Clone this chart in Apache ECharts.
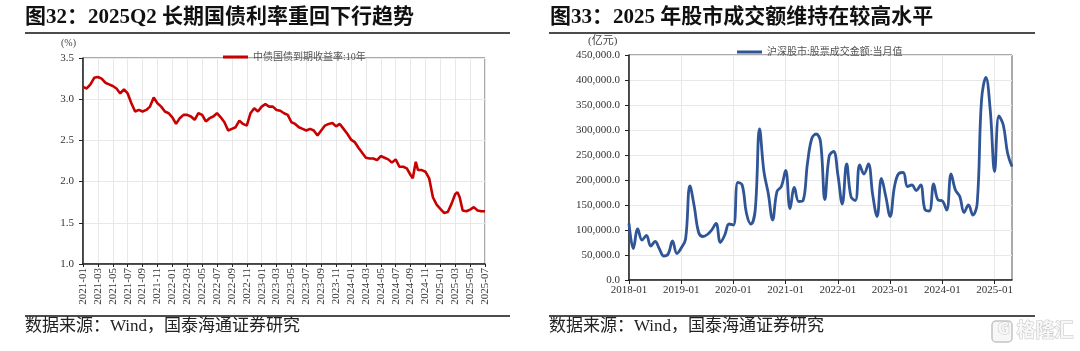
<!DOCTYPE html>
<html>
<head>
<meta charset="utf-8">
<script src="https://cdn.jsdelivr.net/npm/echarts@6/dist/echarts.min.js"></script>
<style>
  html, body { margin: 0; padding: 0; background: #fff; }
  #main { width: 1080px; height: 351px; }
</style>
</head>
<body>
<div id="main"></div>
<script>
// 图32：中债国债到期收益率:10年（%）
var yieldDates = [
  "2021-01-01","2021-01-16","2021-02-01","2021-02-16","2021-03-01","2021-03-16","2021-04-01","2021-04-16",
  "2021-05-01","2021-05-16","2021-06-01","2021-06-16","2021-07-01","2021-07-16","2021-08-01","2021-08-16",
  "2021-09-01","2021-09-16","2021-10-01","2021-10-16","2021-11-01","2021-11-16","2021-12-01","2021-12-16",
  "2022-01-01","2022-01-16","2022-02-01","2022-02-16","2022-03-01","2022-03-16","2022-04-01","2022-04-16",
  "2022-05-01","2022-05-16","2022-06-01","2022-06-16","2022-07-01","2022-07-16","2022-08-01","2022-08-16",
  "2022-09-01","2022-09-16","2022-10-01","2022-10-16","2022-11-01","2022-11-16","2022-12-01","2022-12-16",
  "2023-01-01","2023-01-16","2023-02-01","2023-02-16","2023-03-01","2023-03-16","2023-04-01","2023-04-16",
  "2023-05-01","2023-05-16","2023-06-01","2023-06-16","2023-07-01","2023-07-16","2023-08-01","2023-08-16",
  "2023-09-01","2023-09-16","2023-10-01","2023-10-16","2023-11-01","2023-11-16","2023-12-01","2023-12-16",
  "2024-01-01","2024-01-16","2024-02-01","2024-02-16","2024-03-01","2024-03-16","2024-04-01","2024-04-16",
  "2024-05-01","2024-05-16","2024-06-01","2024-06-16","2024-07-01","2024-07-16","2024-08-01","2024-08-16",
  "2024-09-01","2024-09-10","2024-09-22","2024-10-01","2024-10-16","2024-11-01","2024-11-16","2024-12-01",
  "2024-12-16","2025-01-01","2025-01-16","2025-02-01","2025-02-16","2025-03-01","2025-03-10","2025-03-19",
  "2025-04-01","2025-04-16","2025-05-01","2025-05-16","2025-06-01","2025-06-16","2025-07-01"
];
var yieldValues = [
  3.15, 3.13, 3.18, 3.26, 3.27, 3.25, 3.20, 3.18,
  3.16, 3.13, 3.07, 3.12, 3.07, 2.95, 2.85, 2.87,
  2.85, 2.87, 2.91, 3.02, 2.95, 2.91, 2.85, 2.83,
  2.78, 2.70, 2.77, 2.81, 2.81, 2.79, 2.75, 2.83,
  2.81, 2.73, 2.77, 2.79, 2.83, 2.78, 2.72, 2.62,
  2.64, 2.66, 2.74, 2.70, 2.68, 2.83, 2.89, 2.85,
  2.91, 2.94, 2.91, 2.91, 2.87, 2.86, 2.83, 2.81,
  2.72, 2.70, 2.66, 2.64, 2.62, 2.64, 2.62, 2.56,
  2.62, 2.68, 2.70, 2.71, 2.67, 2.70, 2.64, 2.58,
  2.51, 2.48, 2.41, 2.35, 2.29, 2.28, 2.28, 2.26,
  2.31, 2.29, 2.27, 2.23, 2.27, 2.18, 2.18, 2.16,
  2.08, 2.04, 2.24, 2.14, 2.14, 2.12, 2.04, 1.81,
  1.72, 1.67, 1.62, 1.63, 1.73, 1.85, 1.87, 1.81,
  1.65, 1.64, 1.66, 1.69, 1.65, 1.64, 1.64
];
var yieldAxis = { startYear: 2021, months: 54, step: 2, min: 1.0, max: 3.5, interval: 0.5 };

// 图33：沪深股市:股票成交金额:当月值（亿元），2018-01 起
var turnoverStart = { year: 2018, month: 1 };
var turnoverValues = [
  113000, 63000, 102000, 80000, 89000, 68000, 77000, 62000, 48000, 52000, 78000, 53000,
  64000, 82000, 188000, 147000, 95000, 87000, 91000, 100000, 113000, 75000, 90000, 112000,
  110000, 195000, 190000, 133000, 112000, 140000, 302000, 217000, 173000, 120000, 177000, 187000,
  219000, 143000, 185000, 157000, 159000, 233000, 283000, 292000, 277000, 161000, 248000, 257000,
  210000, 152000, 232000, 167000, 159000, 230000, 212000, 232000, 170000, 127000, 203000, 167000,
  127000, 187000, 213000, 215000, 187000, 190000, 179000, 190000, 141000, 138000, 192000, 160000,
  158000, 140000, 212000, 180000, 167000, 135000, 150000, 130000, 153000, 360000, 405000, 340000,
  217000, 328000, 310000, 253000, 227000
];

var serif = "'Liberation Serif', 'Noto Sans CJK SC', serif";
var cjk = "'Liberation Serif', 'Noto Sans CJK SC', sans-serif";

function monthIndex(d) {
  var p = d.split("-");
  return (+p[0] - yieldAxis.startYear) * 12 + (+p[1] - 1) + (+p[2] - 1) / 30;
}
function monthLabel(v) {
  var y = yieldAxis.startYear + Math.floor(v / 12);
  var m = Math.round(v % 12) + 1;
  return y + "-" + (m < 10 ? "0" + m : m);
}

var yieldData = yieldDates.map(function (d, i) { return [monthIndex(d), yieldValues[i]]; });

var turnoverMonths = turnoverValues.map(function (v, i) {
  var t = turnoverStart.month - 1 + i;
  var y = turnoverStart.year + Math.floor(t / 12);
  var m = t % 12 + 1;
  return y + "-" + (m < 10 ? "0" + m : m);
});

var chart = echarts.init(document.getElementById("main"));

var option = {
  backgroundColor: "#fff",
  animation: false,
  title: [
    {
      text: "图32：2025Q2 长期国债利率重回下行趋势",
      left: 25, top: 7, padding: 0,
      textStyle: { fontFamily: cjk, fontSize: 21, fontWeight: "bold", color: "#111" }
    },
    {
      text: "图33：2025 年股市成交额维持在较高水平",
      left: 550, top: 7, padding: 0,
      textStyle: { fontFamily: cjk, fontSize: 21, fontWeight: "bold", color: "#111" }
    }
  ],
  legend: [
    {
      data: ["中债国债到期收益率:10年"],
      left: 218, top: 47, icon: "rect",
      itemWidth: 25, itemHeight: 3, itemGap: 4,
      textStyle: { fontFamily: cjk, fontSize: 10, color: "#555" }
    },
    {
      data: ["沪深股市:股票成交金额:当月值"],
      left: 732, top: 42, icon: "rect",
      itemWidth: 25, itemHeight: 3, itemGap: 4,
      textStyle: { fontFamily: cjk, fontSize: 10, color: "#555" }
    }
  ],
  grid: [
    { left: 83, top: 58, width: 402, height: 206, show: true, borderColor: "#555", borderWidth: 1 },
    { left: 629, top: 55, width: 383, height: 225, show: true, borderColor: "#555", borderWidth: 1 }
  ],
  xAxis: [
    {
      gridIndex: 0, type: "value",
      min: 0, max: yieldAxis.months, interval: yieldAxis.step,
      axisLine: { lineStyle: { color: "#222", width: 1.5 } },
      axisTick: { show: true, length: 3, lineStyle: { color: "#222" } },
      splitLine: { show: true, lineStyle: { color: "#e8e8e8", width: 1 } },
      axisLabel: {
        rotate: 90, margin: 4, fontFamily: serif, fontSize: 11, color: "#333",
        formatter: monthLabel, showMinLabel: true, showMaxLabel: true
      }
    },
    {
      gridIndex: 1, type: "category", data: turnoverMonths, boundaryGap: false,
      axisLine: { lineStyle: { color: "#222", width: 1.5 } },
      axisTick: { show: true, interval: 11, length: 4, lineStyle: { color: "#222" } },
      splitLine: { show: true, interval: 11, lineStyle: { color: "#e8e8e8", width: 1 } },
      axisLabel: { interval: 11, margin: 5, fontFamily: serif, fontSize: 11, color: "#333" }
    }
  ],
  yAxis: [
    {
      gridIndex: 0, type: "value",
      min: yieldAxis.min, max: yieldAxis.max, interval: yieldAxis.interval,
      axisLine: { show: true, lineStyle: { color: "#222", width: 1.5 } },
      axisTick: { show: true, length: 4, lineStyle: { color: "#222" } },
      splitLine: { show: true, lineStyle: { color: "#e8e8e8", width: 1 } },
      axisLabel: {
        margin: 9, fontFamily: serif, fontSize: 11, color: "#333",
        formatter: function (v) { return v.toFixed(1); }
      }
    },
    {
      gridIndex: 1, type: "value",
      min: 0, max: 450000, interval: 50000,
      axisLine: { show: true, lineStyle: { color: "#222", width: 1.5 } },
      axisTick: { show: true, length: 4, lineStyle: { color: "#222" } },
      splitLine: { show: true, lineStyle: { color: "#e8e8e8", width: 1 } },
      axisLabel: {
        margin: 9, fontFamily: serif, fontSize: 11, color: "#333",
        formatter: function (v) {
          return v.toLocaleString("en-US", { minimumFractionDigits: 1, maximumFractionDigits: 1 });
        }
      }
    }
  ],
  series: [
    {
      name: "中债国债到期收益率:10年",
      type: "line", xAxisIndex: 0, yAxisIndex: 0,
      data: yieldData, symbol: "none",
      lineStyle: { color: "#c80000", width: 2.6 },
      itemStyle: { color: "#c80000" }
    },
    {
      name: "沪深股市:股票成交金额:当月值",
      type: "line", xAxisIndex: 1, yAxisIndex: 1,
      data: turnoverValues, symbol: "none", smooth: 0.4,
      lineStyle: { color: "#2f5597", width: 2.8 },
      itemStyle: { color: "#2f5597" }
    }
  ],
  graphic: [
    { type: "line", shape: { x1: 25, y1: 33, x2: 510, y2: 33 }, style: { stroke: "#111", lineWidth: 1.5 } },
    { type: "line", shape: { x1: 549, y1: 33, x2: 1035, y2: 33 }, style: { stroke: "#111", lineWidth: 1.5 } },
    { type: "line", shape: { x1: 25, y1: 316, x2: 510, y2: 316 }, style: { stroke: "#111", lineWidth: 1.5 } },
    { type: "line", shape: { x1: 549, y1: 316, x2: 1035, y2: 316 }, style: { stroke: "#111", lineWidth: 1.5 } },
    { type: "text", left: 61, top: 38, style: { text: "(%)", font: "10px " + cjk, fill: "#444" } },
    { type: "text", left: 588, top: 36, style: { text: "(亿元)", font: "11px " + cjk, fill: "#444" } },
    { type: "text", left: 25, top: 318, style: { text: "数据来源：Wind，国泰海通证券研究", font: "17px " + cjk, fill: "#222" } },
    { type: "text", left: 549, top: 318, style: { text: "数据来源：Wind，国泰海通证券研究", font: "17px " + cjk, fill: "#222" } },
    { type: "rect", shape: { x: 992, y: 321, width: 20, height: 21, r: 4 }, style: { fill: "#f7f7f7", stroke: "#c4c4c4", lineWidth: 1.5 } },
    { type: "text", left: 997, top: 322, style: { text: "G", font: "bold 15px 'DejaVu Sans'", fill: "#f7f7f7", stroke: "#c4c4c4", lineWidth: 1 } },
    { type: "text", left: 1016, top: 320, style: { text: "格隆汇", font: "bold 19px 'Noto Sans CJK SC'", fill: "#f7f7f7", stroke: "#c4c4c4", lineWidth: 1 } }
  ]
};

chart.setOption(option);
window.addEventListener("resize", function () { chart.resize(); });
</script>
</body>
</html>
